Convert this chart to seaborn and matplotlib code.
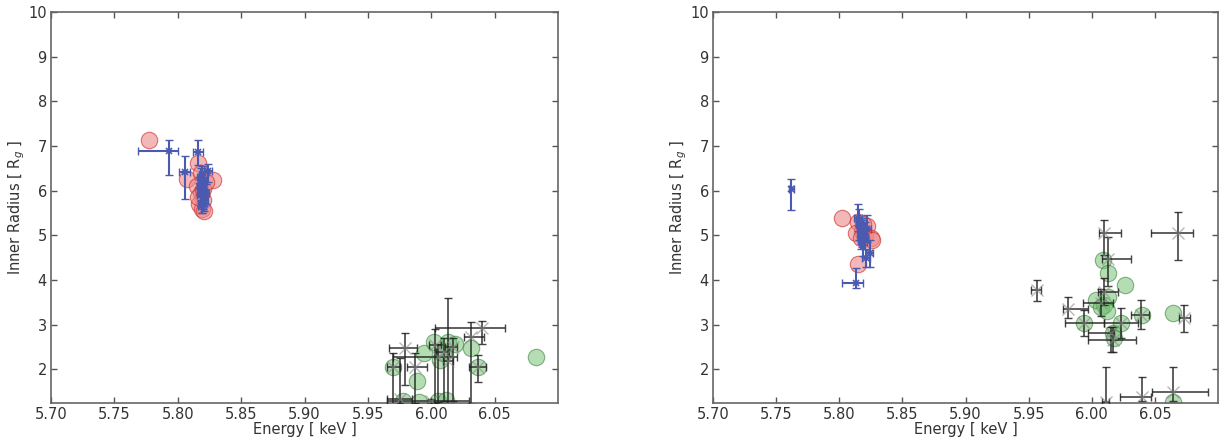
import numpy as np
import pandas as pd
import matplotlib
matplotlib.use("Agg")
import matplotlib.pyplot as plt
import seaborn as sns

# ---------------- data ----------------
# Left panel
L_red_x = [5.777, 5.807, 5.816, 5.828, 5.815, 5.818, 5.820, 5.817, 5.819, 5.821, 5.816, 5.820, 5.822, 5.818]
L_red_y = [7.13, 6.27, 6.62, 6.25, 6.10, 5.95, 5.80, 5.70, 5.60, 5.55, 5.85, 6.05, 6.20, 6.40]

L_blue_x = [5.793, 5.806, 5.816, 5.824, 5.818, 5.819, 5.820, 5.818, 5.821, 5.819, 5.820, 5.818, 5.822, 5.819,
            5.817, 5.821, 5.820, 5.819, 5.818, 5.820]
L_blue_y = [6.89, 6.42, 6.87, 6.45, 6.30, 6.15, 6.00, 5.90, 5.80, 5.70, 6.20, 6.05, 5.95, 5.65,
            6.10, 5.85, 5.75, 6.35, 5.98, 6.25]
L_blue_xlo = [0.024, 0.005, 0.004, 0.003, 0.003, 0.003, 0.003, 0.003, 0.003, 0.003, 0.003, 0.003, 0.003, 0.003,
              0.002, 0.002, 0.002, 0.002, 0.002, 0.002]
L_blue_xhi = [0.007, 0.004, 0.004, 0.003, 0.003, 0.003, 0.003, 0.003, 0.003, 0.003, 0.003, 0.003, 0.003, 0.003,
              0.002, 0.002, 0.002, 0.002, 0.002, 0.002]
L_blue_ylo = [0.54, 0.60, 0.30, 0.25, 0.25, 0.25, 0.25, 0.25, 0.25, 0.20, 0.25, 0.25, 0.25, 0.15,
              0.20, 0.20, 0.15, 0.20, 0.20, 0.20]
L_blue_yhi = [0.25, 0.36, 0.27, 0.15, 0.20, 0.20, 0.20, 0.20, 0.20, 0.20, 0.20, 0.20, 0.20, 0.20,
              0.20, 0.20, 0.15, 0.20, 0.20, 0.20]

L_green_x = [5.970, 5.989, 5.994, 6.002, 6.007, 6.013, 6.019, 6.031, 6.037, 6.083, 6.009, 5.978, 5.990, 6.005, 6.012]
L_green_y = [2.06, 1.75, 2.37, 2.62, 2.21, 2.62, 2.58, 2.48, 2.06, 2.28, 2.37, 1.30, 1.28, 1.30, 1.32]

L_blk_x = [5.979, 5.970, 6.040, 6.013, 6.031, 6.037, 5.987, 6.005, 6.003, 6.010, 6.017, 5.975, 6.000]
L_blk_y = [2.48, 2.06, 2.93, 2.20, 2.73, 2.06, 2.06, 2.28, 2.55, 2.40, 2.50, 1.35, 1.30]
L_blk_xlo = [0.012, 0.005, 0.037, 0.004, 0.005, 0.007, 0.006, 0.035, 0.005, 0.006, 0.006, 0.010, 0.035]
L_blk_xhi = [0.010, 0.005, 0.018, 0.004, 0.011, 0.006, 0.010, 0.015, 0.005, 0.004, 0.003, 0.010, 0.030]
L_blk_ylo = [0.82, 1.00, 0.35, 1.20, 1.50, 0.34, 0.80, 1.00, 1.30, 1.10, 1.20, 0.10, 0.05]
L_blk_yhi = [0.34, 0.30, 0.15, 1.40, 0.33, 0.26, 0.30, 0.30, 0.35, 0.30, 0.20, 0.90, 0.05]

# Right panel
R_red_x = [5.802, 5.815, 5.815, 5.818, 5.820, 5.822, 5.825, 5.826, 5.813, 5.817, 5.819]
R_red_y = [5.39, 4.35, 5.30, 5.10, 5.00, 5.20, 4.95, 4.90, 5.05, 4.95, 5.25]

R_blue_x = [5.762, 5.813, 5.816, 5.818, 5.820, 5.822, 5.819, 5.824, 5.815, 5.817, 5.821, 5.818, 5.820, 5.817]
R_blue_y = [6.05, 3.94, 5.25, 5.05, 4.95, 5.15, 4.85, 4.60, 5.40, 5.00, 4.50, 5.20, 5.10, 4.90]
R_blue_xlo = [0.002, 0.011, 0.003, 0.003, 0.003, 0.003, 0.003, 0.003, 0.003, 0.003, 0.003, 0.002, 0.002, 0.002]
R_blue_xhi = [0.002, 0.006, 0.003, 0.003, 0.003, 0.003, 0.003, 0.003, 0.003, 0.003, 0.003, 0.002, 0.002, 0.002]
R_blue_ylo = [0.49, 0.11, 0.35, 0.30, 0.25, 0.30, 0.30, 0.30, 0.30, 0.20, 0.20, 0.20, 0.20, 0.20]
R_blue_yhi = [0.22, 0.34, 0.35, 0.30, 0.25, 0.30, 0.30, 0.30, 0.30, 0.20, 0.20, 0.20, 0.20, 0.20]

R_green_x = [6.009, 6.013, 6.026, 6.003, 6.010, 5.994, 6.023, 6.040, 6.064, 6.017, 6.018, 6.064, 6.013, 6.007, 6.012]
R_green_y = [4.45, 4.16, 3.89, 3.56, 3.44, 3.04, 3.04, 3.22, 3.27, 2.82, 2.71, 1.27, 3.62, 3.40, 3.30]

R_blk_x = [5.957, 5.981, 5.994, 6.010, 6.013, 6.068, 6.039, 6.073, 6.023, 6.015, 6.017, 6.011, 6.040, 6.064, 6.010, 6.007]
R_blk_y = [3.78, 3.36, 3.04, 5.06, 4.47, 5.06, 3.22, 3.15, 3.04, 2.82, 2.65, 1.27, 1.39, 1.50, 3.74, 3.49]
R_blk_xlo = [0.005, 0.004, 0.015, 0.004, 0.005, 0.021, 0.008, 0.004, 0.013, 0.018, 0.020, 0.003, 0.018, 0.016, 0.005, 0.014]
R_blk_xhi = [0.003, 0.016, 0.016, 0.013, 0.018, 0.012, 0.006, 0.005, 0.014, 0.003, 0.018, 0.003, 0.007, 0.028, 0.011, 0.010]
R_blk_ylo = [0.25, 0.21, 0.30, 0.50, 0.60, 0.61, 0.32, 0.31, 0.33, 0.43, 0.26, 0.10, 0.10, 0.20, 0.30, 0.30]
R_blk_yhi = [0.22, 0.26, 0.30, 0.29, 0.50, 0.46, 0.34, 0.29, 0.34, 0.13, 0.30, 0.79, 0.44, 0.56, 0.30, 0.30]

x_ticks = [5.70, 5.75, 5.80, 5.85, 5.90, 5.95, 6.00, 6.05]
y_ticks = [2, 3, 4, 5, 6, 7, 8, 9, 10]

# ---------------- style ----------------
sns.set_style("white")
plt.rcParams['font.family'] = ['DejaVu Sans']

W, H = 1219, 441
fig = plt.figure(figsize=(W / 100, H / 100), dpi=100)
ax_l = fig.add_axes([51 / W, 1 - 403 / H, (558 - 51) / W, (403 - 12) / H])
ax_r = fig.add_axes([713 / W, 1 - 403 / H, (1218 - 713) / W, (403 - 12) / H])

red_face = '#ee8888'
blue_c = '#4a5ab0'
green_face = '#77c277'


def panel(ax, rx, ry, bx, by, bxl, bxh, byl, byh, gx, gy, kx, ky, kxl, kxh, kyl, kyh):
    sns.scatterplot(data=pd.DataFrame({'x': gx, 'y': gy}), x='x', y='y', ax=ax,
                    s=140, color=green_face, edgecolor='#2e7a2e', linewidth=0.8,
                    alpha=0.55, zorder=2, legend=False)
    ax.errorbar(kx, ky, xerr=[kxl, kxh], yerr=[kyl, kyh], fmt='none',
                ecolor='#222222', elinewidth=1.2, capsize=3, capthick=1.0, alpha=0.85, zorder=3)
    ax.plot(kx, ky, linestyle='none', marker='x', markersize=9, color='#888888',
            markeredgewidth=1.0, alpha=0.6, zorder=3)
    sns.scatterplot(data=pd.DataFrame({'x': rx, 'y': ry}), x='x', y='y', ax=ax,
                    s=140, color=red_face, edgecolor='#cc2222', linewidth=0.8,
                    alpha=0.6, zorder=4, legend=False)
    ax.errorbar(bx, by, xerr=[bxl, bxh], yerr=[byl, byh], fmt='none',
                ecolor=blue_c, elinewidth=1.5, capsize=3, capthick=1.0, zorder=5)
    ax.plot(bx, by, linestyle='none', marker='x', markersize=5, color=blue_c,
            markeredgewidth=1.2, zorder=5)

    ax.set_xlim(5.70, 6.10)
    ax.set_ylim(1.25, 10)
    ax.set_xticks(x_ticks)
    ax.set_xticklabels([f"{t:.2f}" for t in x_ticks])
    ax.set_yticks(y_ticks)
    ax.set_yticklabels([str(t) for t in y_ticks])
    ax.tick_params(direction='in', length=4, width=1, colors='#555555',
                   labelcolor='#333333', labelsize=10.5, top=True, right=True,
                   bottom=True, left=True, pad=3)
    for s in ax.spines.values():
        s.set_color('#666666')
        s.set_linewidth(1.2)
        s.set_visible(True)
    ax.set_xlabel('Energy [ keV ]', fontsize=10.5, color='#333333', labelpad=0)
    ax.set_ylabel('Inner Radius [ R$_g$ ]', fontsize=10.5, color='#333333', labelpad=1)


panel(ax_l, L_red_x, L_red_y, L_blue_x, L_blue_y, L_blue_xlo, L_blue_xhi, L_blue_ylo, L_blue_yhi,
      L_green_x, L_green_y, L_blk_x, L_blk_y, L_blk_xlo, L_blk_xhi, L_blk_ylo, L_blk_yhi)
panel(ax_r, R_red_x, R_red_y, R_blue_x, R_blue_y, R_blue_xlo, R_blue_xhi, R_blue_ylo, R_blue_yhi,
      R_green_x, R_green_y, R_blk_x, R_blk_y, R_blk_xlo, R_blk_xhi, R_blk_ylo, R_blk_yhi)

fig.savefig('out.png', dpi=100)
